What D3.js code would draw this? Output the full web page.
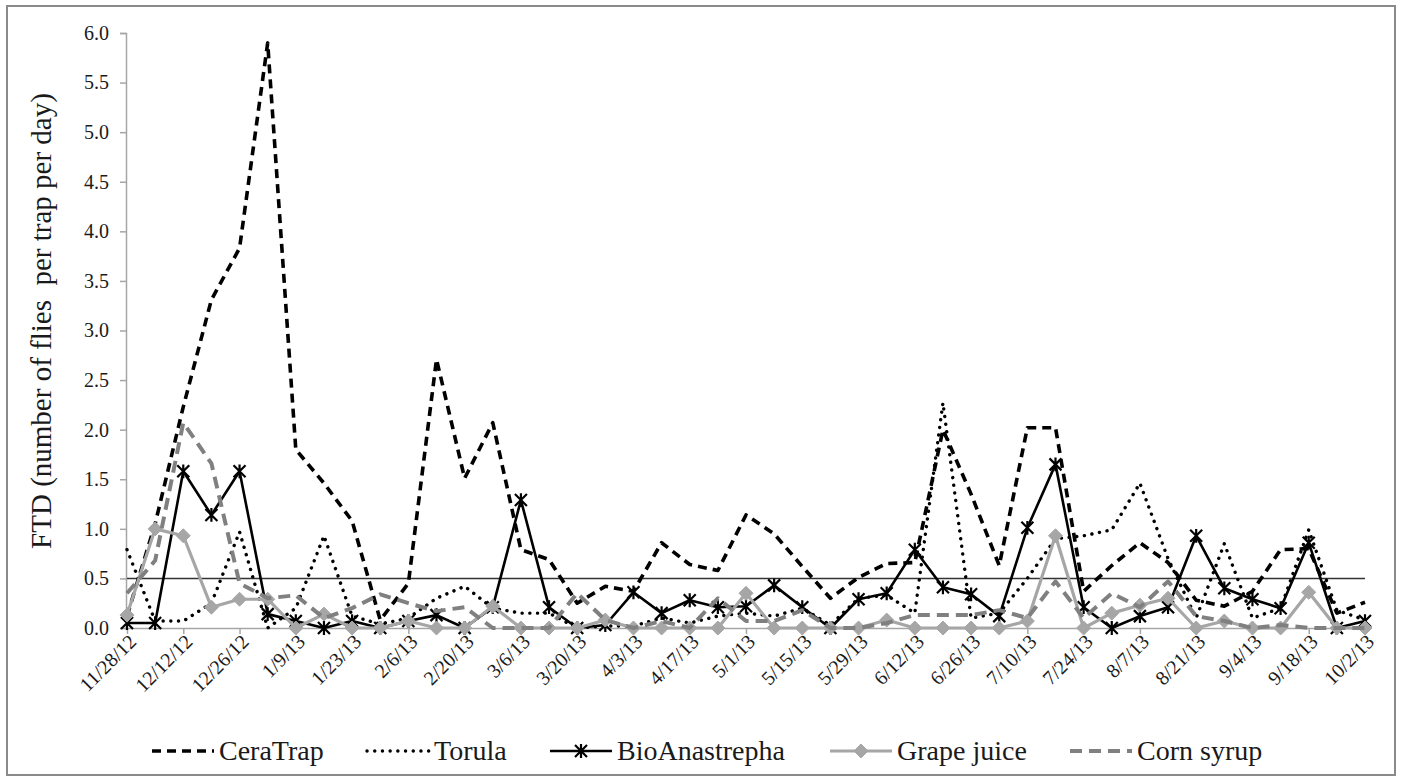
<!DOCTYPE html>
<html>
<head>
<meta charset="utf-8">
<script src="https://cdn.jsdelivr.net/npm/d3@7"></script>
<style>
  body { margin: 0; background: #fff; }
</style>
</head>
<body>
<svg id="chart" width="1401" height="782"></svg>
<script>
// weekly trap dates
const dates = ["11/28/12","12/5/12","12/12/12","12/19/12","12/26/12","1/2/13","1/9/13","1/16/13","1/23/13","1/30/13",
  "2/6/13","2/13/13","2/20/13","2/27/13","3/6/13","3/13/13","3/20/13","3/27/13","4/3/13","4/10/13",
  "4/17/13","4/24/13","5/1/13","5/8/13","5/15/13","5/22/13","5/29/13","6/5/13","6/12/13","6/19/13",
  "6/26/13","7/3/13","7/10/13","7/17/13","7/24/13","7/31/13","8/7/13","8/14/13","8/21/13","8/28/13",
  "9/4/13","9/11/13","9/18/13","9/25/13","10/2/13"];

const ceraTrap = [0.12,1.05,2.23,3.31,3.83,5.9,1.8,1.46,1.08,0.08,0.45,2.71,1.51,2.07,0.79,0.69,0.25,0.42,0.37,0.86,
  0.64,0.58,1.14,0.95,0.62,0.3,0.51,0.65,0.66,2.0,1.35,0.63,2.02,2.02,0.37,0.63,0.86,0.66,0.28,0.22,
  0.37,0.79,0.8,0.15,0.26];
const torula = [0.79,0.07,0.07,0.25,0.97,0.0,0.2,0.93,0.12,0.04,0.1,0.3,0.42,0.2,0.15,0.15,0.0,0.02,0.02,0.1,
  0.05,0.12,0.15,0.12,0.2,0.03,0.3,0.33,0.15,2.27,0.1,0.15,0.5,0.9,0.93,0.99,1.46,0.7,0.1,0.85,
  0.1,0.2,0.99,0.18,0.08];
const bioAnastrepha = [0.05,0.05,1.58,1.14,1.58,0.14,0.07,0.0,0.07,0.0,0.07,0.13,0.0,0.21,1.29,0.21,0.0,0.03,0.36,0.15,
  0.28,0.21,0.22,0.43,0.21,0.0,0.29,0.35,0.79,0.41,0.34,0.12,1.01,1.65,0.21,0.0,0.12,0.21,0.93,0.4,
  0.29,0.2,0.86,0.0,0.07];
const grapeJuice = [0.13,1.0,0.93,0.21,0.29,0.29,0.0,0.14,0.0,0.0,0.07,0.0,0.0,0.22,0.0,0.0,0.0,0.08,0.0,0.0,
  0.0,0.0,0.35,0.0,0.0,0.0,0.0,0.08,0.0,0.0,0.0,0.0,0.07,0.93,0.0,0.15,0.23,0.3,0.0,0.07,
  0.0,0.0,0.36,0.0,0.0];
const cornSyrup = [0.35,0.68,2.07,1.66,0.45,0.3,0.33,0.1,0.2,0.34,0.25,0.17,0.21,0.0,0.0,0.0,0.35,0.08,0.0,0.07,
  0.0,0.3,0.07,0.07,0.18,0.0,0.0,0.05,0.13,0.13,0.13,0.18,0.1,0.47,0.1,0.35,0.21,0.47,0.12,0.07,
  0.0,0.03,0.0,0.0,0.0];

const threshold = 0.5;
const yTicks = [0,0.5,1,1.5,2,2.5,3,3.5,4,4.5,5,5.5,6];

const FONT = '"Liberation Serif"';

const series = [
  { name: "CeraTrap",      values: ceraTrap,      color: "#000",    width: 3.6, dash: "9,6",    cap: "butt",  marker: null },
  { name: "Torula",        values: torula,        color: "#000",    width: 3.4, dash: "0.1,7.6", cap: "round", marker: null },
  { name: "BioAnastrepha", values: bioAnastrepha, color: "#000",    width: 2.6, dash: null,     cap: "butt",  marker: "star" },
  { name: "Grape juice",   values: grapeJuice,    color: "#a6a6a6", width: 3.2, dash: null,     cap: "butt",  marker: "diamond" },
  { name: "Corn syrup",    values: cornSyrup,     color: "#808080", width: 4,   dash: "12,7",   cap: "butt",  marker: null }
];

const svg = d3.select("#chart");

// outer frame
svg.append("rect")
  .attr("x", 7).attr("y", 6).attr("width", 1388).attr("height", 769)
  .attr("fill", "#fff").attr("stroke", "#8a8a8a").attr("stroke-width", 2);

const x = d3.scalePoint().domain(dates).range([127, 1365]);
const y = d3.scaleLinear().domain([0, 6]).range([628, 33]);

// y axis
const yAx = svg.append("g")
  .attr("transform", "translate(126,0)")
  .call(d3.axisLeft(y).tickValues(yTicks).tickFormat(d3.format(".1f")).tickSize(6).tickPadding(11));
yAx.attr("font-family", null).attr("font-size", null);
yAx.select(".domain").attr("stroke", "#a6a6a6").attr("stroke-width", 1.5);
yAx.selectAll(".tick line").attr("stroke", "#a6a6a6").attr("stroke-width", 1.5);
yAx.selectAll(".tick text")
  .style("font-family", FONT).style("font-size", "20px").attr("fill", "#1a1a1a");

// x axis
const xAx = svg.append("g")
  .attr("transform", "translate(0,628)")
  .call(d3.axisBottom(x).tickValues(dates.filter((d, i) => i % 2 === 0)).tickSize(6).tickSizeOuter(0));
xAx.attr("font-family", null).attr("font-size", null);
xAx.select(".domain").attr("stroke", "#a6a6a6").attr("stroke-width", 1.5);
xAx.selectAll(".tick line").attr("stroke", "#a6a6a6").attr("stroke-width", 1.5);
xAx.selectAll(".tick text")
  .style("font-family", FONT).style("font-size", "20px").attr("fill", "#1a1a1a")
  .attr("text-anchor", "end")
  .attr("dy", "0.35em")
  .attr("transform", "translate(5,10) rotate(-45)")
  .attr("x", 0).attr("y", 0);

// y title
svg.append("text")
  .attr("transform", "translate(51,321) rotate(-90)")
  .attr("text-anchor", "middle")
  .attr("xml:space", "preserve")
  .attr("fill", "#1a1a1a")
  .style("font-family", FONT)
  .style("font-size", "29px")
  .text("FTD (number of flies  per trap per day)");

// 0.5 reference line
svg.append("line")
  .attr("x1", x(dates[0])).attr("x2", x(dates[dates.length - 1]))
  .attr("y1", y(threshold)).attr("y2", y(threshold))
  .attr("stroke", "#333").attr("stroke-width", 1.5);

const line = d3.line().x((d, i) => x(dates[i])).y(d => y(d));

function starPath(s) {
  return `M${-s},${-s}L${s},${s}M${-s},${s}L${s},${-s}M0,${-s * 1.15}L0,${s * 1.15}`;
}
function diamondPath(s) {
  return `M0,${-s}L${s},0L0,${s}L${-s},0Z`;
}

function drawMarker(g, type, color) {
  if (type === "star") {
    g.append("path").attr("d", starPath(6)).attr("stroke", color).attr("stroke-width", 2.2).attr("fill", "none");
  } else if (type === "diamond") {
    g.append("path").attr("d", diamondPath(7)).attr("fill", color).attr("stroke", color);
  }
}

series.forEach(s => {
  svg.append("path")
    .datum(s.values)
    .attr("d", line)
    .attr("fill", "none")
    .attr("stroke", s.color)
    .attr("stroke-width", s.width)
    .attr("stroke-dasharray", s.dash)
    .attr("stroke-linecap", s.cap)
    .attr("stroke-linejoin", "round");
  if (s.marker) {
    s.values.forEach((v, i) => {
      const g = svg.append("g").attr("transform", `translate(${x(dates[i])},${y(v)})`);
      drawMarker(g, s.marker, s.color);
    });
  }
});

// legend
const legendX = [152, 367, 550, 830, 1070];
const legY = 751;
series.forEach((s, k) => {
  const g = svg.append("g").attr("transform", `translate(${legendX[k]},${legY})`);
  g.append("line")
    .attr("x1", 0).attr("x2", 62).attr("y1", 0).attr("y2", 0)
    .attr("stroke", s.color).attr("stroke-width", s.width)
    .attr("stroke-dasharray", s.dash).attr("stroke-linecap", s.cap);
  if (s.marker) {
    const m = g.append("g").attr("transform", "translate(31,0)");
    drawMarker(m, s.marker, s.color);
  }
  g.append("text")
    .attr("x", 67).attr("y", 0).attr("dy", "0.33em")
    .attr("fill", "#1a1a1a")
    .style("font-family", FONT)
    .style("font-size", "28px")
    .text(s.name);
});
</script>
</body>
</html>
